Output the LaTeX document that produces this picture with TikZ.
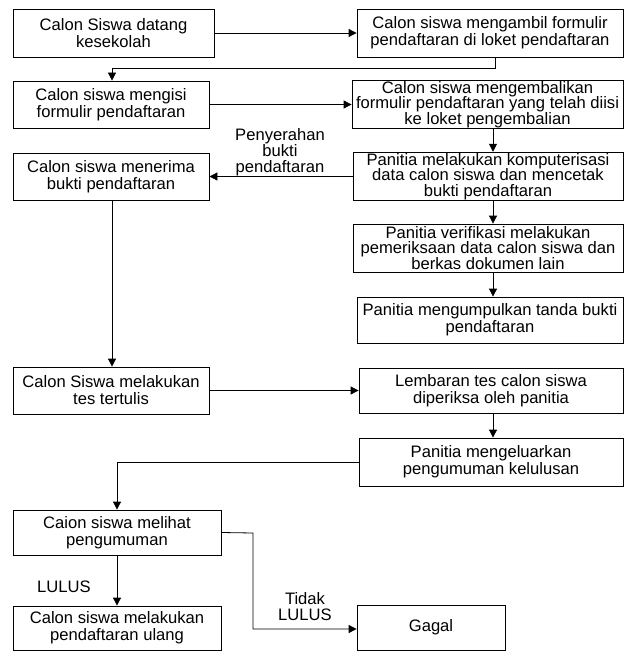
\documentclass[tikz,border=0pt]{standalone}
\usepackage{fontspec}
\setmainfont{Liberation Sans}
\usetikzlibrary{arrows.meta}
\begin{document}
\begin{tikzpicture}[x=1pt,y=-1pt,
  box/.style={draw=black, line width=0.8pt, rectangle, align=center, inner sep=1pt,
    font=\fontsize{16.6}{17}\selectfont},
  box3/.style={box, font=\fontsize{16.6}{15.6}\selectfont},
  lbl/.style={align=center, inner sep=0pt, font=\fontsize{16.6}{16}\selectfont},
  conn/.style={line width=0.8pt, draw=black},
  arr/.style={conn, -{Triangle[length=8pt,width=8pt]}}]
\useasboundingbox (0,0) rectangle (624,652);
% boxes
\node[box, minimum width=201pt, minimum height=48pt] (b1) at (113.5,33) {Calon Siswa datang\\kesekolah};
\node[box, minimum width=266pt, minimum height=48pt] (b2) at (490,33) {Calon siswa mengambil formulir\\pendaftaran di loket pendaftaran};
\node[box, minimum width=196pt, minimum height=47pt] (b3) at (111,104.5) {Calon siswa mengisi\\formulir pendaftaran};
\node[box3, minimum width=271pt, minimum height=47pt] (b4) at (487.5,104.5) {Calon siswa mengembalikan\\formulir pendaftaran yang telah diisi\\ke loket pengembalian};
\node[box3, minimum width=270pt, minimum height=47pt] (b5) at (488,176.5) {Panitia melakukan komputerisasi\\data calon siswa dan mencetak\\bukti pendaftaran};
\node[box, minimum width=196pt, minimum height=47pt] (b6) at (111,176.5) {Calon siswa menerima\\bukti pendaftaran};
\node[box3, minimum width=270pt, minimum height=48pt] (b8) at (488,248) {Panitia verifikasi melakukan\\pemeriksaan data calon siswa dan\\berkas dokumen lain};
\node[box, minimum width=266pt, minimum height=46pt] (b9) at (490,320) {Panitia mengumpulkan tanda bukti\\pendaftaran};
\node[box, minimum width=196pt, minimum height=47pt] (b7) at (111,390.5) {Calon Siswa melakukan\\tes tertulis};
\node[box, minimum width=264pt, minimum height=45pt] (b10) at (491,390.5) {Lembaran tes calon siswa\\diperiksa oleh panitia};
\node[box, minimum width=264pt, minimum height=48pt] (b11) at (491,462) {Panitia mengeluarkan\\pengumuman kelulusan};
\node[box, minimum width=208pt, minimum height=45pt] (b12) at (117,532.5) {Caion siswa melihat\\pengumuman};
\node[box, minimum width=208pt, minimum height=44pt] (b13) at (117,628) {Calon siswa melakukan\\pendaftaran ulang};
\node[box, minimum width=148pt, minimum height=45pt] (b14) at (431,627.5) {Gagal};
% labels
\node[lbl] (l1) at (280,152) {Penyerahan\\bukti\\pendaftaran};
\node[lbl] (l2) at (64,587) {LULUS};
\node[lbl] (l3) at (305,607) {Tidak\\LULUS};
% helper coordinates
\coordinate (c1) at (495,68);
\coordinate (c2) at (112,68);
\coordinate (c3) at (117,462);
\coordinate (c4) at (253,533);
\coordinate (c5) at (253,629);
% connectors
\draw[arr] (b1.east) -- (b2.west);
\draw[arr] (b2.south -| c1) -- (c1) -- (c2) -- (b3.north -| c2);
\draw[arr] (b3.east) -- (b4.west);
\draw[arr] (b4.south -| 493,0) -- (b5.north -| 493,0);
\draw[arr] (b5.west) -- (b6.east);
\draw[arr] (b5.south -| 493,0) -- (b8.north -| 493,0);
\draw[arr] (b8.south -| 493,0) -- (b9.north -| 493,0);
\draw[arr] (b6.south -| 112,0) -- (b7.north -| 112,0);
\draw[arr] (b7.east) -- (b10.west);
\draw[arr] (b10.south -| 493,0) -- (b11.north -| 493,0);
\draw[arr] (b11.west) -- (c3) -- (b12.north -| c3);
\draw[arr] (b12.south -| c3) -- (b13.north -| c3);
\draw[arr] (b12.east) -- (c4) -- (c5) -- (b14.west |- c5);
\end{tikzpicture}
\end{document}
